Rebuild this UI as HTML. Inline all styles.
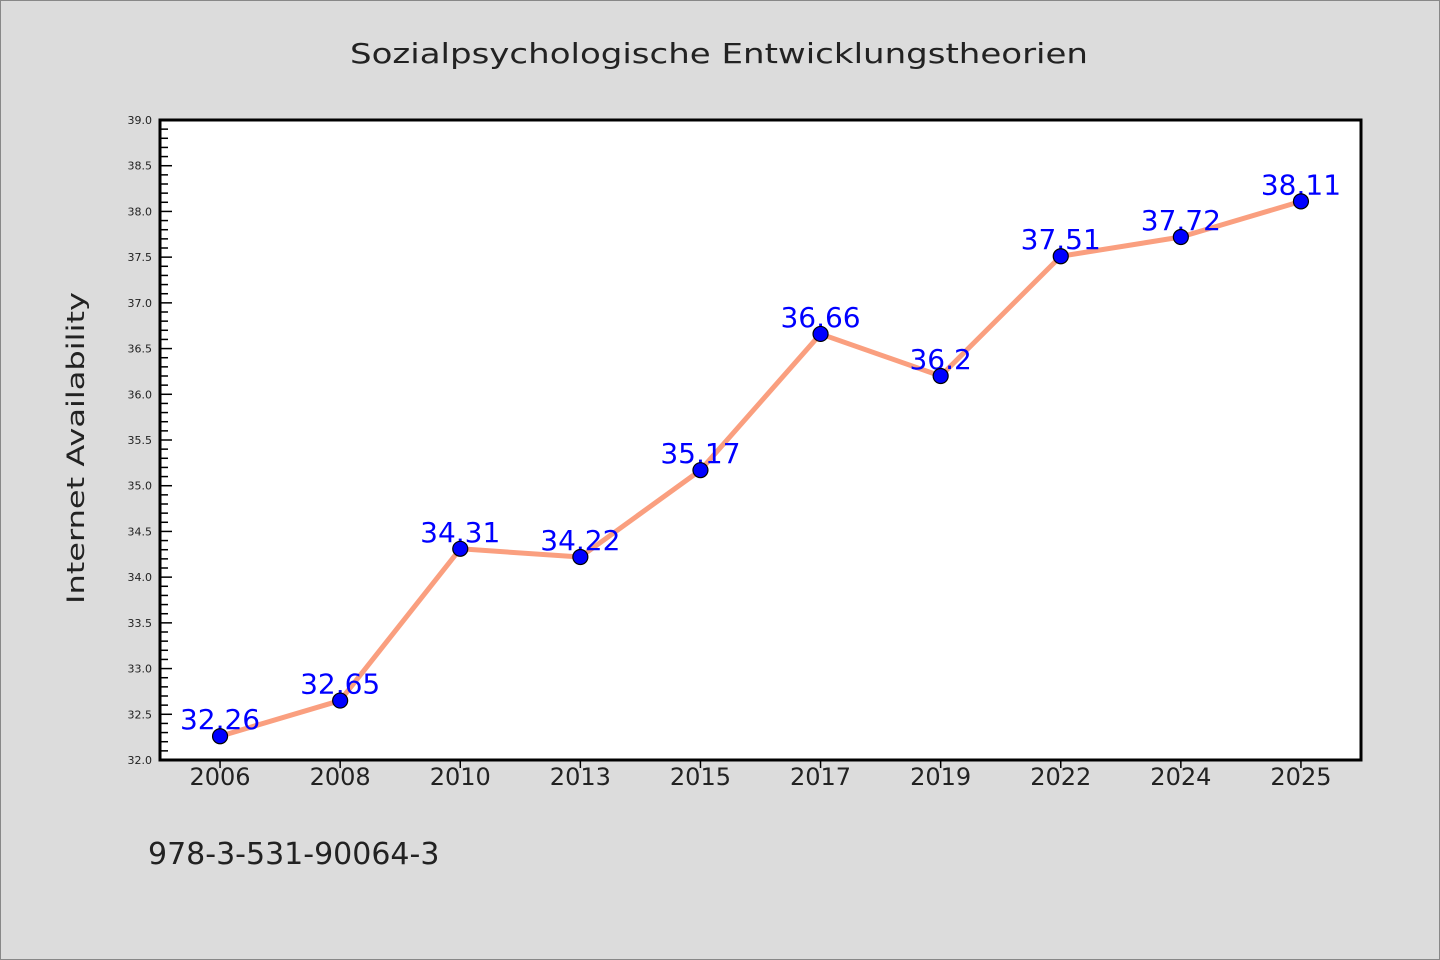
<!DOCTYPE html>
<html><head><meta charset="utf-8"><style>
html,body{margin:0;padding:0;background:#dcdcdc;}
svg{display:block;font-family:"WenQuanYi Zen Hei","DejaVu Sans",sans-serif;}
</style></head><body>
<svg id="chart" width="1440" height="960" viewBox="0 0 1440 960">
<rect x="0.5" y="0.5" width="1439" height="959" fill="#dcdcdc" stroke="#888"/>
<text x="719" y="63" text-anchor="middle" font-size="28" fill="#222" textLength="738" lengthAdjust="spacingAndGlyphs">Sozialpsychologische Entwicklungstheorien</text>
<rect x="160" y="120" width="1201" height="640" fill="#fff"/>
<g id="yaxis"></g>
<g id="xaxis"></g>
<g id="series"></g>
<rect x="160" y="120" width="1201" height="640" fill="none" stroke="#000" stroke-width="3"/>
<text transform="translate(84,448) rotate(-90)" text-anchor="middle" font-size="24" fill="#222" textLength="312" lengthAdjust="spacingAndGlyphs">Internet Availability</text>
<text x="148" y="864" font-size="30" fill="#222">978-3-531-90064-3</text>
</svg>
<script>
const categories = ["2006","2008","2010","2013","2015","2017","2019","2022","2024","2025"];
const values = [32.26,32.65,34.31,34.22,35.17,36.66,36.2,37.51,37.72,38.11];
const valueLabels = ["32.26","32.65","34.31","34.22","35.17","36.66","36.2","37.51","37.72","38.11"];
const yTicks = ["32.0","32.5","33.0","33.5","34.0","34.5","35.0","35.5","36.0","36.5","37.0","37.5","38.0","38.5","39.0"];
const yMin = 32, yMax = 39;
const L=160,R=1361,T=120,B=760;
const NS="http://www.w3.org/2000/svg";
function y(v){return B-(v-yMin)/(yMax-yMin)*(B-T);}
function x(i){const bw=(R-L)/categories.length;return L+bw*(i+0.5);}
function mk(tag,attrs,parent){const e=document.createElementNS(NS,tag);for(const k in attrs)e.setAttribute(k,attrs[k]);parent.appendChild(e);return e;}
const ya=document.getElementById('yaxis');
for(let k=0;k<=70;k++){const v=yMin+k*0.1;const major=k%5===0;
 const t=mk('line',{x1:L,x2:L+(major?12:8),y1:y(v),y2:y(v),stroke:'#000','stroke-width':1.5},ya);
 
 }
yTicks.forEach(s=>{const tx=mk('text',{x:L-8,y:y(parseFloat(s))+4,'text-anchor':'end','font-size':11,fill:'#222'},ya);tx.textContent=s;
 
 });
const xa=document.getElementById('xaxis');
categories.forEach((c,i)=>{const t=mk('line',{x1:x(i),x2:x(i),y1:B,y2:B+8,stroke:'#000','stroke-width':1.5},xa);
 
 
 const tx=mk('text',{x:x(i),y:B+25,'text-anchor':'middle','font-size':24,fill:'#222'},xa);tx.textContent=c;
 
 });
const s=document.getElementById('series');
const pl=mk('polyline',{points:values.map((v,i)=>x(i)+','+y(v)).join(' '),fill:'none',stroke:'#fa9f7f','stroke-width':5,'stroke-linejoin':'round'},s);


values.forEach((v,i)=>{
 const tx=mk('text',{x:x(i),y:y(v)-7,'text-anchor':'middle','font-size':28,fill:'#0000ff'},s);tx.textContent=valueLabels[i];
 
 
 const c=mk('circle',{cx:x(i),cy:y(v),r:7.5,fill:'#0000ff',stroke:'#000','stroke-width':1.2},s);
 
 });
</script>
</body></html>
